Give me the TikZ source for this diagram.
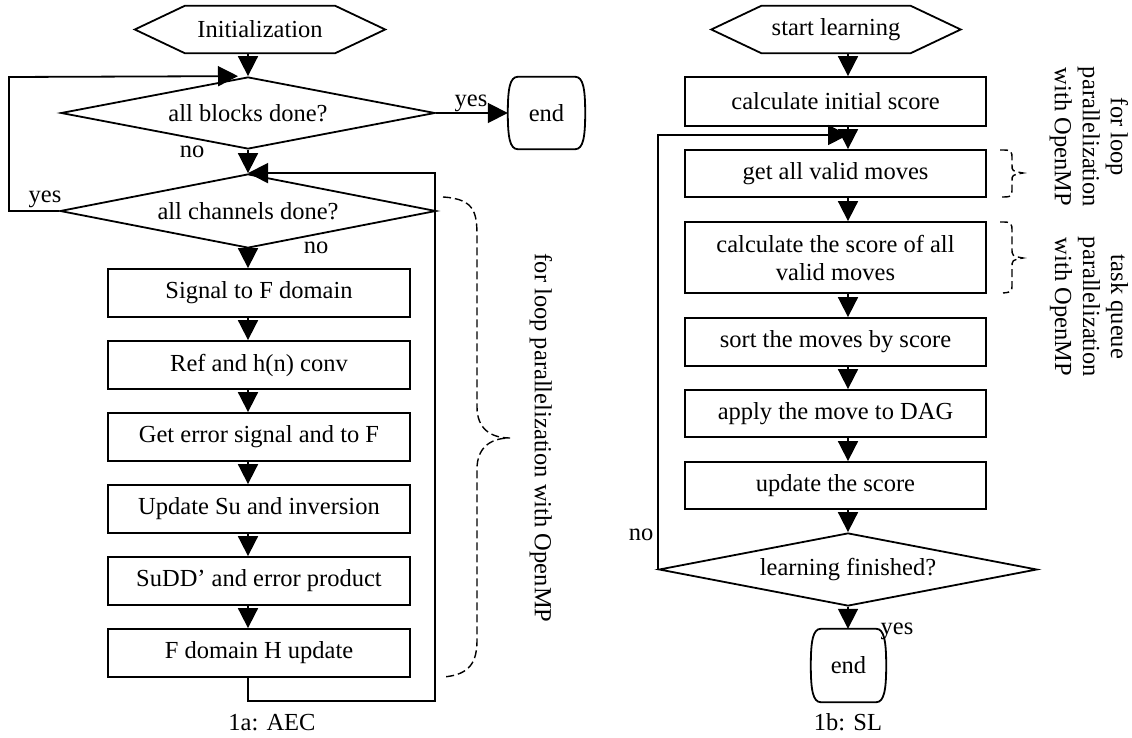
\documentclass[tikz,border=0pt]{standalone}
\usepackage{fontspec}
\setmainfont{Liberation Serif}
\usetikzlibrary{arrows.meta,shapes.geometric,calc}
\begin{document}
\begin{tikzpicture}[x=1pt,y=-1pt,
  every node/.style={font=\fontsize{24.5}{28}\selectfont, inner sep=0pt},
  lw/.style={line width=1.8pt},
  proc/.style={draw, lw, minimum width=302pt, align=center},
  dec/.style={draw, lw, diamond, shape aspect=5},
  term/.style={minimum width=77pt, minimum height=72pt},
  hexn/.style={minimum width=250pt, minimum height=47pt},
  arr/.style={lw, -{Triangle[length=20pt,width=20pt]}},
  brace/.style={line width=1.4pt, dash pattern=on 8pt off 4pt},
  lbl/.style={}
]
\useasboundingbox (0,0) rectangle (1132,738);

\newcommand{\hexshape}[1]{%
  \draw[lw] (#1.west) -- ($(#1.north west)+(50,0)$) -- ($(#1.north east)+(-50,0)$) -- (#1.east)
    -- ($(#1.south east)+(-50,0)$) -- ($(#1.south west)+(50,0)$) -- cycle;}
\newcommand{\termshape}[1]{%
  \draw[lw] ($(#1.north west)+(10,0)$) -- ($(#1.north east)+(-10,0)$)
    .. controls ($(#1.north east)+(-2,0)$) and ($(#1.east)+(0,-24)$) .. (#1.east)
    .. controls ($(#1.east)+(0,24)$) and ($(#1.south east)+(-2,0)$) .. ($(#1.south east)+(-10,0)$)
    -- ($(#1.south west)+(10,0)$)
    .. controls ($(#1.south west)+(2,0)$) and ($(#1.west)+(0,24)$) .. (#1.west)
    .. controls ($(#1.west)+(0,-24)$) and ($(#1.north west)+(2,0)$) .. cycle;}

% ---------------- left: AEC ----------------
\node[hexn] (init) at (260,29.5) {Initialization};
\hexshape{init}
\node[dec, minimum width=374pt, minimum height=72pt] (d1) at (248,113) {all blocks done?};
\node[term] (end1) at (546.5,113) {end};
\termshape{end1}
\node[dec, minimum width=376pt, minimum height=74pt] (d2) at (248,211) {all channels done?};

\node[proc, minimum height=48pt] (b1) at (259,293) {Signal to F domain};
\node[proc, minimum height=48pt] (b2) at (259,365) {Ref and h(n) conv};
\node[proc, minimum height=48pt] (b3) at (259,437) {Get error signal and to F};
\node[proc, minimum height=48pt] (b4) at (259,509) {Update Su and inversion};
\node[proc, minimum height=48pt] (b5) at (259,581) {SuDD' and error product};
\node[proc, minimum height=48pt] (b6) at (259,653) {F domain H update};

\draw[arr] (init.south -| d1.north) -- (d1.north);
\draw[arr] (d1.south) -- (d2.north);
\draw[arr] (d1.east) -- (end1.west);
\draw[arr] (d2.south) -- (d2.south |- b1.north);
\draw[arr] (d2.south |- b1.south) -- (d2.south |- b2.north);
\draw[arr] (d2.south |- b2.south) -- (d2.south |- b3.north);
\draw[arr] (d2.south |- b3.south) -- (d2.south |- b4.north);
\draw[arr] (d2.south |- b4.south) -- (d2.south |- b5.north);
\draw[arr] (d2.south |- b5.south) -- (d2.south |- b6.north);
\coordinate (lpBR) at (435,701);
\draw[arr] (d2.south |- b6.south) -- (d2.south |- lpBR) -- (lpBR) -- (lpBR |- d2.north) -- (d2.north);
\coordinate (lpL) at (9,77);
\draw[arr, shorten >=10pt] (d2.west) -- (lpL |- d2.west) -- (lpL) -- (d1.north);

\node (yes1) at (471,103) {yes};
\node (no1) at (192,152) {no};
\node (no2) at (316,248) {no};
\node (yes2) at (45,199) {yes};

\draw[brace] (443,197) .. controls (477,199) and (477,215) .. (477,240) -- (477,407)
  .. controls (477,428) and (490,438) .. (510,438)
  .. controls (490,438) and (477,448) .. (477,469) -- (477,640)
  .. controls (477,662) and (470,675) .. (443,677);
\node[rotate=-90] (par1) at (541,438) {for loop parallelization with OpenMP};
\node (capA) at (272,723) {1a: AEC};

% ---------------- right: SL ----------------
\node[hexn, minimum width=249pt] (start) at (836,29.5) {start learning};
\hexshape{start}
\node[proc, minimum width=301pt, minimum height=49pt] (c1) at (835.5,101.5) {calculate initial score};
\node[proc, minimum width=301pt, minimum height=47pt] (c2) at (835.5,173.5) {get all valid moves};
\node[proc, minimum width=301pt, minimum height=71pt] (c3) at (835.5,257.5) {calculate the score of all\\valid moves};
\node[proc, minimum width=301pt, minimum height=48pt] (c4) at (835.5,342) {sort the moves by score};
\node[proc, minimum width=301pt, minimum height=47pt] (c5) at (835.5,413.5) {apply the move to DAG};
\node[proc, minimum width=301pt, minimum height=47pt] (c6) at (835.5,485.5) {update the score};
\node[dec, minimum width=378pt, minimum height=73pt] (d3) at (848,569.5) {learning finished?};
\node[term, minimum width=75pt, minimum height=73pt] (end2) at (848.5,665.5) {end};
\termshape{end2}

\draw[arr] (start.south -| d3.north) -- (d3.north |- c1.north);
\draw[arr] (d3.north |- c1.south) -- (d3.north |- c2.north);
\draw[arr] (d3.north |- c2.south) -- (d3.north |- c3.north);
\draw[arr] (d3.north |- c3.south) -- (d3.north |- c4.north);
\draw[arr] (d3.north |- c4.south) -- (d3.north |- c5.north);
\draw[arr] (d3.north |- c5.south) -- (d3.north |- c6.north);
\draw[arr] (d3.north |- c6.south) -- (d3.north);
\draw[arr] (d3.south) -- (d3.south |- end2.north);
\coordinate (lpR) at (660,135);
\draw[arr] (d3.west) -- (d3.west |- lpR) -- (lpR -| d3.north);

\node (no3) at (641,535) {no};
\node (yes3) at (897,631) {yes};

\draw[brace] (1000,150) .. controls (1012,150) .. (1012,160) -- (1012,165)
  .. controls (1012,171) .. (1023,173) .. controls (1012,175) .. (1012,181) -- (1012,187)
  .. controls (1012,197) .. (1000,197);
\draw[brace] (1000,222) .. controls (1012,222) .. (1012,233) -- (1012,248)
  .. controls (1012,256) .. (1023,258) .. controls (1012,260) .. (1012,268) -- (1012,283)
  .. controls (1012,292) .. (1003,293);

\node[rotate=-90, align=center] (par2) at (1089,137) {for loop\\parallelization\\with OpenMP};
\node[rotate=-90, align=center] (par3) at (1089,307) {task queue\\parallelization\\with OpenMP};
\node (capB) at (848,722) {1b: SL};
\end{tikzpicture}
\end{document}
